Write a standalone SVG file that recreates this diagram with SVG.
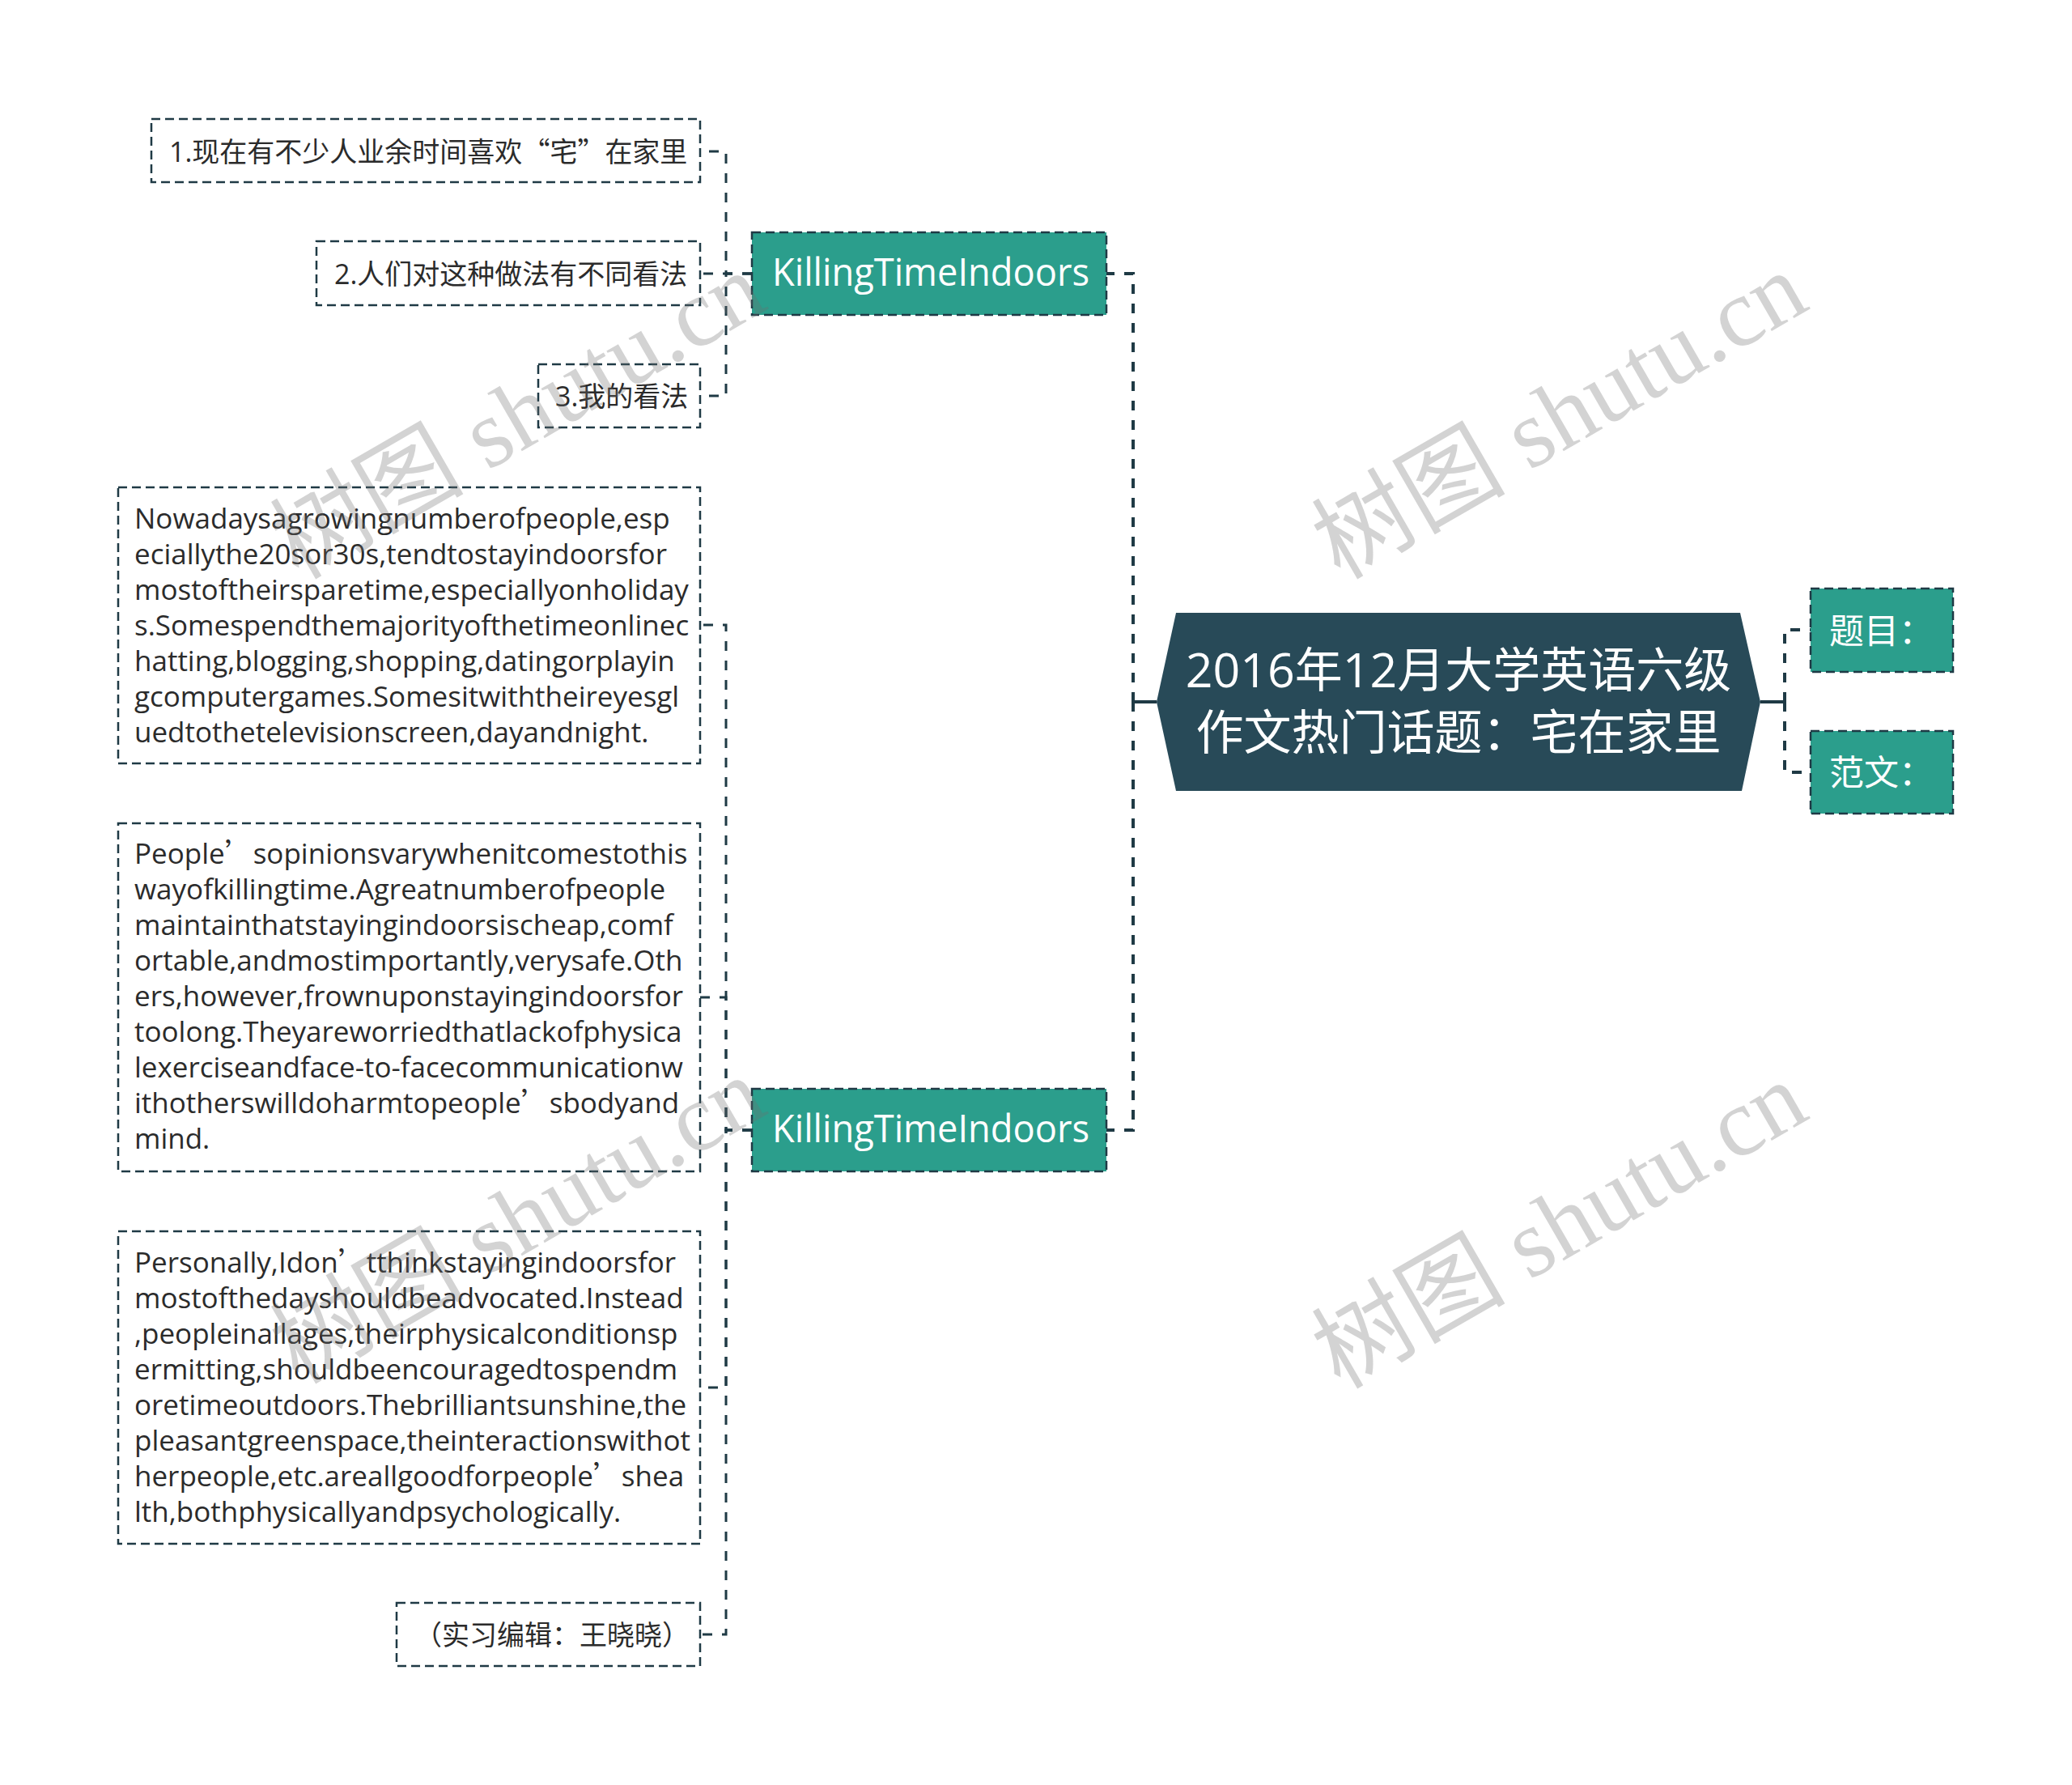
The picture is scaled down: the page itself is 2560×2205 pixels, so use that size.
<svg xmlns="http://www.w3.org/2000/svg" width="2560" height="2205" viewBox="0 0 2560 2205">
<style>
.bg{fill:#ffffff}
.box{fill:#ffffff;stroke:#1f3a45;stroke-width:2.5;stroke-dasharray:11 6}
.teal{fill:#2b9e8c;stroke:#1f3a45;stroke-width:2.5;stroke-dasharray:11 6}
.root{fill:#284a58}
.t{font-family:"Open Sans","Noto Sans CJK SC",sans-serif;fill:#2b2b2b}
.body{font-size:35px}
.lab{font-size:34px}
.w{fill:#ffffff}
.cjk{font-family:"Noto Sans CJK SC",sans-serif}
.c1{fill:none;stroke:#1f3a45;stroke-width:4;stroke-dasharray:12 12}
.c1s{fill:none;stroke:#1f3a45;stroke-width:4}
.c2{fill:none;stroke:#1f3a45;stroke-width:3;stroke-dasharray:12 12}
.wm{font-family:"Liberation Serif","Noto Sans CJK SC",serif;font-size:120px;fill:#6e6e6e;fill-opacity:0.3}
</style>
<rect class="bg" x="0" y="0" width="2560" height="2205"/>
<g id="connectors">
<path class="c1s" d="M1429,867 H1400"/>
<path class="c1" d="M1400,867 V338 H1367"/>
<path class="c1" d="M1400,867 V1396 H1367"/>
<path class="c1s" d="M2175,867 H2205"/>
<path class="c1" d="M2205,867 V778 H2237"/>
<path class="c1" d="M2205,867 V954 H2237"/>
<path class="c2" d="M929,338 H897 V187 H865"/>
<path class="c2" d="M929,338 H865"/>
<path class="c2" d="M929,338 H897 V489 H865"/>
<path class="c2" d="M929,1396 H897 V772 H865"/>
<path class="c2" d="M929,1396 H897 V1232 H865"/>
<path class="c2" d="M929,1396 H897 V1714 H865"/>
<path class="c2" d="M929,1396 H897 V2019 H865"/>
</g>
<g id="root">
<polygon class="root" points="1429,867 1453,757 2150,757 2175,867 2152,977 1453,977"/>
<text class="t w" font-size="59" text-anchor="middle" x="1802" y="849">2016年12月大学英语六级</text>
<text class="t w" font-size="59" text-anchor="middle" x="1802" y="926">作文热门话题：宅在家里</text>
</g>
<g id="n-timu">
<rect class="teal" x="2237" y="727" width="176" height="103"/>
<text class="t w" font-size="43" x="2260" y="795">题目：</text>
</g>
<g id="n-fanwen">
<rect class="teal" x="2237" y="903" width="176" height="102"/>
<text class="t w" font-size="43" x="2260" y="970">范文：</text>
</g>
<g id="n-kt1">
<rect class="teal" x="929" y="287" width="438" height="102"/>
<text class="t w" font-size="48" text-anchor="middle" x="1150" y="353" textLength="392" lengthAdjust="spacingAndGlyphs">KillingTimeIndoors</text>
</g>
<g id="n-kt2">
<rect class="teal" x="929" y="1345" width="438" height="102"/>
<text class="t w" font-size="48" text-anchor="middle" x="1150" y="1411" textLength="392" lengthAdjust="spacingAndGlyphs">KillingTimeIndoors</text>
</g>
<g id="n-1">
<rect class="box" x="187" y="147" width="678" height="78"/>
<text class="t lab" x="209" y="200">1.现在有不少人业余时间喜欢<tspan class="cjk">“</tspan>宅<tspan class="cjk">”</tspan>在家里</text>
</g>
<g id="n-2">
<rect class="box" x="391" y="298" width="474" height="79"/>
<text class="t lab" x="413" y="351">2.人们对这种做法有不同看法</text>
</g>
<g id="n-3">
<rect class="box" x="665" y="450" width="200" height="78"/>
<text class="t lab" x="686" y="502">3.我的看法</text>
</g>
<g id="n-4">
<rect class="box" x="146" y="602" width="719" height="341"/>
<text class="t body" x="166" y="653">
<tspan x="166" y="653">Nowadaysagrowingnumberofpeople,esp</tspan>
<tspan x="166" y="697">eciallythe20sor30s,tendtostayindoorsfor</tspan>
<tspan x="166" y="741">mostoftheirsparetime,especiallyonholiday</tspan>
<tspan x="166" y="785">s.Somespendthemajorityofthetimeonlinec</tspan>
<tspan x="166" y="829">hatting,blogging,shopping,datingorplayin</tspan>
<tspan x="166" y="873">gcomputergames.Somesitwiththeireyesgl</tspan>
<tspan x="166" y="917">uedtothetelevisionscreen,dayandnight.</tspan>
</text>
</g>
<g id="n-5">
<rect class="box" x="146" y="1017" width="719" height="430"/>
<text class="t body" x="166" y="1067">
<tspan x="166" y="1067">People<tspan class="cjk">’</tspan>sopinionsvarywhenitcomestothis</tspan>
<tspan x="166" y="1111">wayofkillingtime.Agreatnumberofpeople</tspan>
<tspan x="166" y="1155">maintainthatstayingindoorsischeap,comf</tspan>
<tspan x="166" y="1199">ortable,andmostimportantly,verysafe.Oth</tspan>
<tspan x="166" y="1243">ers,however,frownuponstayingindoorsfor</tspan>
<tspan x="166" y="1287">toolong.Theyareworriedthatlackofphysica</tspan>
<tspan x="166" y="1331">lexerciseandface-to-facecommunicationw</tspan>
<tspan x="166" y="1375">ithotherswilldoharmtopeople<tspan class="cjk">’</tspan>sbodyand</tspan>
<tspan x="166" y="1419">mind.</tspan>
</text>
</g>
<g id="n-6">
<rect class="box" x="146" y="1521" width="719" height="386"/>
<text class="t body" x="166" y="1572">
<tspan x="166" y="1572">Personally,Idon<tspan class="cjk">’</tspan>tthinkstayingindoorsfor</tspan>
<tspan x="166" y="1616">mostofthedayshouldbeadvocated.Instead</tspan>
<tspan x="166" y="1660">,peopleinallages,theirphysicalconditionsp</tspan>
<tspan x="166" y="1704">ermitting,shouldbeencouragedtospendm</tspan>
<tspan x="166" y="1748">oretimeoutdoors.Thebrilliantsunshine,the</tspan>
<tspan x="166" y="1792">pleasantgreenspace,theinteractionswithot</tspan>
<tspan x="166" y="1836">herpeople,etc.areallgoodforpeople<tspan class="cjk">’</tspan>shea</tspan>
<tspan x="166" y="1880">lth,bothphysicallyandpsychologically.</tspan>
</text>
</g>
<g id="n-7">
<rect class="box" x="490" y="1980" width="375" height="78"/>
<text class="t lab" x="512" y="2032">（实习编辑：王晓晓）</text>
</g>
<g id="watermarks">
<text class="wm" text-anchor="middle" transform="translate(640,514) rotate(-30)" x="0" y="40">树图 shutu.cn</text>
<text class="wm" text-anchor="middle" transform="translate(1927,514) rotate(-30)" x="0" y="40">树图 shutu.cn</text>
<text class="wm" text-anchor="middle" transform="translate(640,1508) rotate(-30)" x="0" y="40">树图 shutu.cn</text>
<text class="wm" text-anchor="middle" transform="translate(1927,1514) rotate(-30)" x="0" y="40">树图 shutu.cn</text>
</g>
</svg>
